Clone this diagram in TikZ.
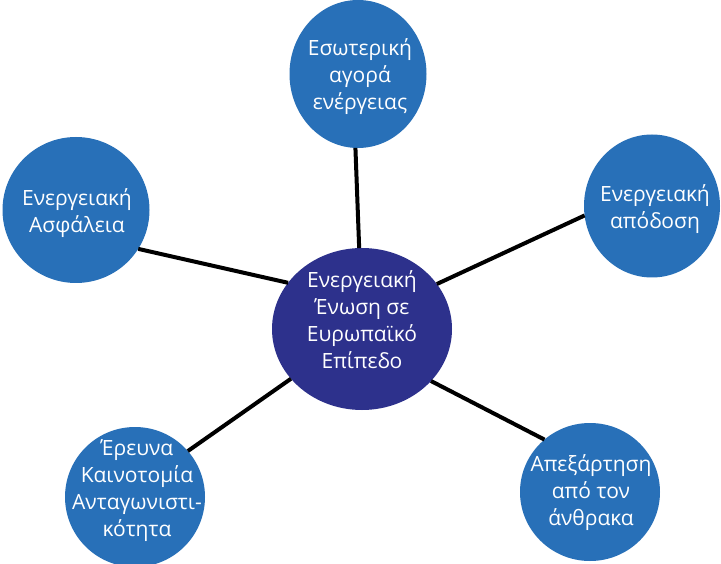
\documentclass[tikz,border=0pt]{standalone}
\usepackage{fontspec}
\setmainfont{Open Sans}
\usetikzlibrary{shapes.geometric}
\definecolor{outerblue}{RGB}{40,112,184}
\definecolor{innerblue}{RGB}{45,49,140}
\begin{document}
\begin{tikzpicture}[x=1pt,y=-1pt,
  bubble/.style={ellipse, fill=outerblue, draw=none, inner sep=0pt, outer sep=0pt},
  hub/.style={bubble, fill=innerblue},
  txt/.style={text=white, align=center, inner sep=0pt, font=\fontsize{21}{27}\selectfont},
  link/.style={line width=4pt, black}]
\useasboundingbox (0,0) rectangle (721,564);
\fill[white] (0,0) rectangle (721,564);
% bubbles
\node[hub, minimum width=180pt, minimum height=162pt] (c) at (362,329) {};
\node[bubble, minimum width=137pt, minimum height=148pt] (t) at (358,74) {};
\node[bubble, minimum width=147pt, minimum height=146pt] (l) at (76,210) {};
\node[bubble, minimum width=136pt, minimum height=143pt] (r) at (652,206) {};
\node[bubble, minimum width=140pt, minimum height=140pt] (bl) at (135,497) {};
\node[bubble, minimum width=140pt, minimum height=138pt] (br) at (590,492) {};
% connectors
\draw[link] (c.92) -- (t.268);
\draw[link] (c.148) -- (l.-32);
\draw[link] (c.31) -- (r.188);
\draw[link] (c.215) -- (bl.41);
\draw[link] (c.-37) -- (br.131);
% texts
\node[txt] (ct) at (362,320) {Ενεργειακή\\Ένωση σε\\Ευρωπαϊκό\\Επίπεδο};
\node[txt] (tt) at (360,77) {Εσωτερική\\αγορά\\ενέργειας};
\node[txt] (lt) at (77,213) {Ενεργειακή\\Ασφάλεια};
\node[txt] (rt) at (655,209) {Ενεργειακή\\απόδοση};
\node[txt] (blt) at (137,491) {Έρευνα\\Καινοτομία\\Ανταγωνιστι-\\κότητα};
\node[txt] (brt) at (591,493) {Απεξάρτηση\\από τον\\άνθρακα};
\end{tikzpicture}
\end{document}
